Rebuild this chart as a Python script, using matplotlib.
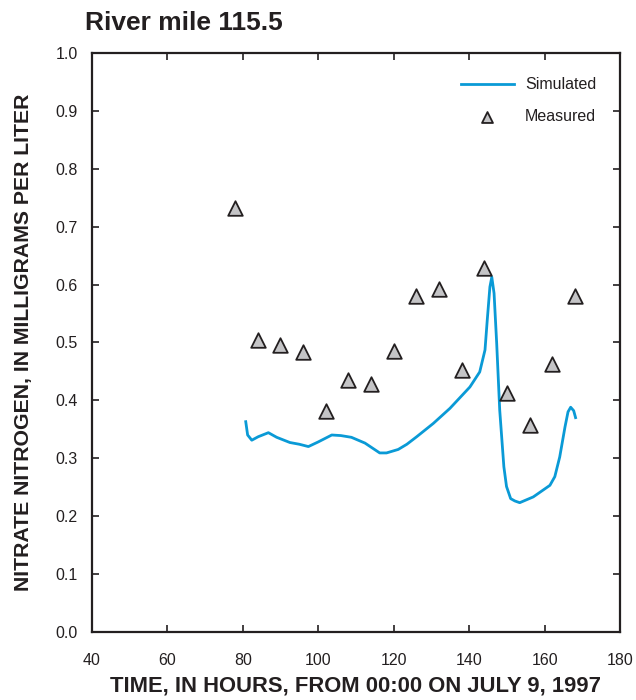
import matplotlib
matplotlib.use("Agg")
import matplotlib.pyplot as plt

plt.rcParams["font.family"] = ["Liberation Sans", "DejaVu Sans"]

# Simulated nitrate nitrogen (hours since 00:00 July 9, 1997)
sim_hours = [80.8, 81.3, 82.4, 84.1, 86.8, 89.0, 92.5, 95.0, 97.4, 100.0,
             103.6, 106.0, 108.8, 112.4, 116.3, 118.1, 121.2, 123.5, 126.1,
             130.5, 134.9, 140.2, 142.8, 144.2, 144.8, 145.5, 146.0, 146.6,
             147.3, 148.1, 149.2, 149.9, 151.0, 152.1, 153.4, 157.0, 161.4,
             162.7, 164.0, 165.4, 166.2, 166.9, 167.7, 168.2]
sim_values = [0.363, 0.340, 0.331, 0.337, 0.344, 0.336, 0.327, 0.324, 0.320,
              0.328, 0.340, 0.339, 0.336, 0.326, 0.309, 0.309, 0.315, 0.324,
              0.337, 0.360, 0.386, 0.423, 0.449, 0.487, 0.539, 0.596, 0.613,
              0.585, 0.498, 0.383, 0.285, 0.251, 0.230, 0.226, 0.223, 0.233,
              0.253, 0.268, 0.302, 0.354, 0.380, 0.388, 0.382, 0.370]

# Measured samples
meas_hours = [78, 84, 90, 96, 102, 108, 114, 120, 126, 132, 138, 144, 150,
              156, 162, 168]
meas_values = [0.732, 0.505, 0.496, 0.483, 0.382, 0.435, 0.428, 0.485, 0.581,
               0.592, 0.452, 0.628, 0.413, 0.358, 0.463, 0.581]

x_ticks = [40, 60, 80, 100, 120, 140, 160, 180]
y_ticks = [0.0, 0.1, 0.2, 0.3, 0.4, 0.5, 0.6, 0.7, 0.8, 0.9, 1.0]

ink = "#231f20"

fig = plt.figure(figsize=(6.36, 7.0), dpi=100)
ax = fig.add_axes([0.1443, 0.0976, 0.8307, 0.8264])

ax.plot(sim_hours, sim_values, color="#0a9ad6", lw=2.0, label="Simulated",
        zorder=2, solid_joinstyle="round")
ax.scatter(meas_hours, meas_values, marker="^", s=110, facecolor="#c4c4c6",
           edgecolor=ink, linewidth=1.3, label="Measured", zorder=3)

ax.set_xlim(40, 180)
ax.set_ylim(0, 1.0)
ax.set_xticks(x_ticks)
ax.set_yticks(y_ticks)
ax.set_yticklabels([f"{v:.1f}" for v in y_ticks])
ax.tick_params(direction="in", top=True, right=True, length=5, width=1.2,
               labelsize=11.5, colors=ink)
ax.tick_params(axis="x", pad=15)
ax.tick_params(axis="y", pad=10)
for s in ax.spines.values():
    s.set_linewidth(1.6)
    s.set_color(ink)

ax.set_xlabel("TIME, IN HOURS, FROM 00:00 ON JULY 9, 1997", fontsize=15.8,
              fontweight="bold", color=ink, labelpad=6)
ax.set_ylabel("NITRATE NITROGEN, IN MILLIGRAMS PER LITER", fontsize=15.3,
              fontweight="bold", color=ink, labelpad=16)

fig.text(85 / 636, 1 - 23 / 700, "River mile 115.5", fontsize=19,
         fontweight="bold", color=ink, va="center", ha="left")

leg = ax.legend(loc="upper right", frameon=False, fontsize=11.5,
                handlelength=3.3, handletextpad=0.7, labelspacing=1.05,
                borderaxespad=1.1, scatterpoints=1, markerscale=0.75)
for t in leg.get_texts():
    t.set_color(ink)

fig.savefig("out.png", dpi=100)
